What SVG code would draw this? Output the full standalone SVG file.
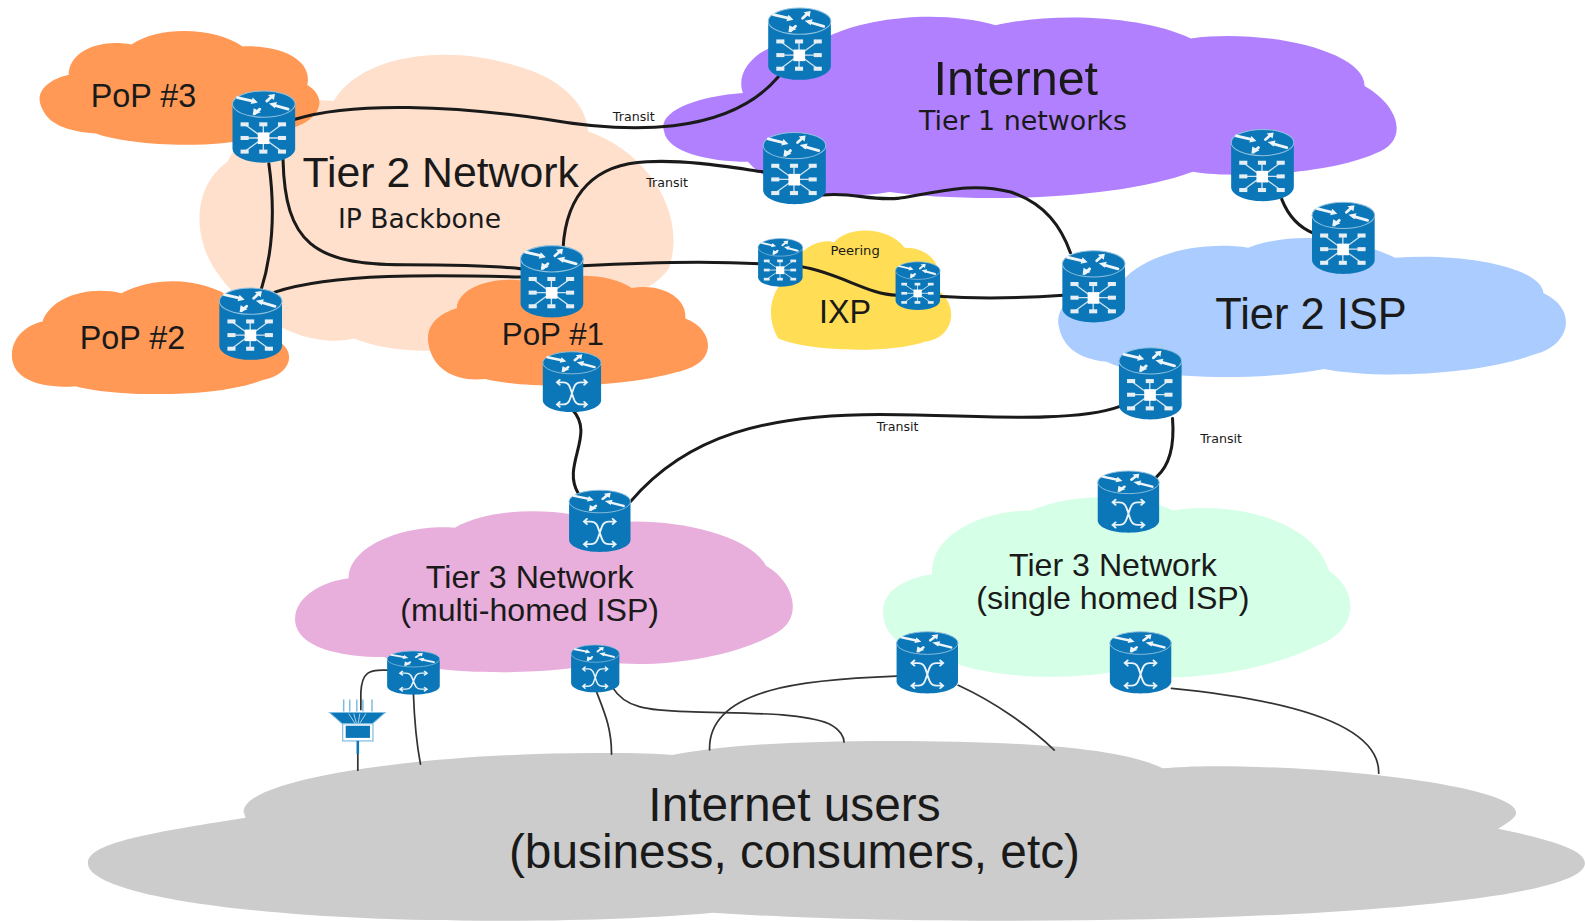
<svg xmlns="http://www.w3.org/2000/svg" width="1585" height="922" viewBox="0 0 1585 922">
<style>
text{font-family:"Liberation Sans",Arial,sans-serif;fill:#1a1a1a;text-anchor:middle}
.ds{font-family:"DejaVu Sans",sans-serif}
.c{fill:none;stroke:#1a1a1a;stroke-width:3;stroke-linecap:round}
.t{fill:none;stroke:#333;stroke-width:1.7;stroke-linecap:round}
.tr{font-size:12.5px}
.w{fill:none;stroke:#e8f2f8;stroke-width:2;stroke-linecap:round}
.f{fill:#e4eef4}
</style>
<defs>
<g id="top">
<path d="M0 13V57C0 65 14 71 31 71S62 65 62 57V13Z" fill="#0b76b8"/>
<ellipse cx="31" cy="13" rx="31" ry="13" fill="#0b76b8" stroke="#8fc1de" stroke-width="1"/>
<path d="M5 6.500L20 10M34 10L39 5.500M22 22.500L27 18M41 14L55 18" stroke="#eef5f9" stroke-width="2.800" stroke-linecap="round" fill="none"/>
<path d="M25 11.500L18 13L20 6.500ZM42 3L41 9L35 4ZM20 24L21 17L28 21ZM36 12.500L44 11L42 17Z" fill="#eef5f9"/>
</g>
<g id="router">
<use href="#top"/>
<path d="M30.500 46.500L12 33M30.500 46.500L30.500 33M30.500 46.500L49 33M30.500 46.500L12 46.500M30.500 46.500L49 46.500M30.500 46.500L12 60M30.500 46.500L30.500 60M30.500 46.500L49 60" stroke="#cfe4f0" stroke-width="1.300"/>
<rect x="25" y="41" width="11.500" height="11.500" fill="#fff"/>
<g class="f"><rect x="8" y="31" width="8" height="4"/><rect x="26.500" y="31" width="8" height="4"/><rect x="45" y="31" width="8" height="4"/><rect x="8" y="44.500" width="8" height="4"/><rect x="45" y="44.500" width="8" height="4"/><rect x="8" y="58" width="8" height="4"/><rect x="26.500" y="58" width="8" height="4"/><rect x="45" y="58" width="8" height="4"/></g>
</g>
<g id="switch">
<use href="#top"/>
<path class="w" d="M15 36H22C28 36 29 42 31 49S34 62 40 62H47M47 36H40C34 36 33 42 31 49S28 62 22 62H15M18 33L15 36L18 39M44 33L47 36L44 39M18 59L15 62L18 65M44 59L47 62L44 65"/>
</g>
</defs>

<g id="diagram" transform="scale(1.0108)">
<g id="clouds">
<path id="cloud-tier2" fill="#ffe0cc" d="M215 270C190 235 190 185 225 160C250 110 300 95 330 100C360 50 450 45 510 65C550 75 580 100 582 130C640 150 680 210 662 265C640 300 560 310 520 320C480 350 400 355 350 335C310 345 250 320 215 270Z"/>
<path id="cloud-pop3" fill="#ff9955" d="M42 108C32 90 50 78 68 74C68 50 100 38 130 44C160 24 215 28 240 46C275 44 310 58 304 84C330 100 310 125 280 128C230 150 130 145 95 132C65 130 48 122 42 108Z"/>
<path id="cloud-pop2" fill="#ff9955" d="M12 355C10 335 25 322 42 318C50 295 85 282 120 290C160 270 205 278 230 295C270 300 275 325 270 335C295 345 290 370 260 376C210 395 110 392 75 382C40 385 14 375 12 355Z"/>
<path id="cloud-pop1" fill="#ff9955" d="M425 345C418 322 435 310 452 305C452 285 490 270 530 280C570 268 605 272 625 285C655 280 680 295 678 315C705 325 710 355 680 365C620 385 520 385 480 375C450 378 430 365 425 345Z"/>
<path id="cloud-internet" fill="#b080ff" d="M657 130C650 110 690 95 735 92C725 65 760 35 815 38C860 15 935 10 985 25C1040 12 1130 15 1178 38C1250 28 1350 50 1350 85C1385 105 1395 140 1360 152C1320 170 1230 178 1180 170C1100 200 950 200 880 190C820 200 760 185 740 160C700 160 660 150 657 130Z"/>
<path id="cloud-isp" fill="#aaccff" d="M1048 325C1040 300 1075 280 1110 278C1135 250 1190 238 1235 245C1280 228 1340 235 1380 255C1450 250 1525 265 1527 290C1560 305 1555 340 1520 350C1460 372 1360 375 1310 365C1230 380 1120 372 1095 358C1065 355 1052 342 1048 325Z"/>
<path id="cloud-ixp" fill="#ffdd55" d="M770 335C755 310 765 280 785 270C785 245 815 235 825 240C840 222 880 225 895 245C925 245 935 270 925 285C950 300 945 335 915 338C880 350 800 348 770 335Z"/>
<path id="cloud-t3m" fill="#e8aedc" d="M292 615C290 590 320 575 345 572C345 540 400 518 450 522C490 500 560 502 600 518C650 510 740 525 758 560C785 575 795 610 770 625C730 650 650 662 600 655C540 670 420 668 380 650C335 650 295 640 292 615Z"/>
<path id="cloud-t3s" fill="#d5ffe6" d="M874 610C870 585 895 572 922 568C920 530 970 505 1020 505C1070 485 1130 490 1160 505C1220 495 1300 515 1315 565C1345 585 1345 625 1300 640C1250 665 1160 678 1100 665C1040 675 950 668 925 645C895 645 876 630 874 610Z"/>
<path id="cloud-users" fill="#cccccc" d="M243 809C140 825 87 835 87 854C87 885 250 911 490 911C580 911 650 908 705 903C780 908 880 911 1000 911C1300 911 1568 890 1568 854C1568 840 1530 830 1482 820C1495 812 1500 808 1500 804C1500 780 1340 758 1200 758C1180 758 1165 759 1150 760C1110 740 1010 733 880 733C780 733 710 738 665 747C640 745 620 745 590 745C420 745 241 770 241 803Z"/>
</g>

<g id="connectors">
<path class="c" d="M292 118C350 100 450 105 540 118C620 132 720 135 770 76"/>
<path class="c" d="M266 162C272 205 270 250 258 288"/>
<path class="c" d="M280 158C282 240 310 262 400 262C450 262 490 263 516 266"/>
<path class="c" d="M272 289C330 270 430 272 516 274"/>
<path class="c" d="M557 246C560 190 590 162 640 160C680 158 720 165 755 170"/>
<path class="c" d="M576 263C630 260 700 258 752 261"/>
<path class="c" d="M793 264C830 270 860 292 887 292"/>
<path class="c" d="M928 293C970 296 1010 295 1052 292"/>
<path class="c" d="M814 193C845 190 860 199 890 196C930 190 960 180 1000 190C1035 202 1050 225 1059 250"/>
<path class="c" d="M1268 197C1275 215 1285 225 1300 231"/>
<path class="c" d="M566 405C590 430 555 460 572 488"/>
<path class="c" d="M624 496C680 430 760 410 870 410C950 410 1060 420 1108 402"/>
<path class="c" d="M1160 414C1162 440 1158 460 1144 472"/>
<path class="t" d="M383 663C365 662 358 665 357 685V702"/>
<path class="t" d="M354 733V762"/>
<path class="t" d="M409 686C410 715 412 735 416 756"/>
<path class="t" d="M590 684C598 705 605 720 605 746"/>
<path class="t" d="M606 680C618 700 640 703 680 704C730 706 790 704 820 716C832 722 835 730 835 734"/>
<path class="t" d="M887 669C800 672 700 680 702 742"/>
<path class="t" d="M948 678C985 695 1020 720 1043 742"/>
<path class="t" d="M1159 681C1250 690 1365 710 1364 765"/>
</g>

<g id="r-pop3"><use href="#router" x="230" y="90"/></g>
<g id="r-pop2"><use href="#router" x="217" y="285"/></g>
<g id="r-pop1"><use href="#router" x="515" y="243"/></g>
<g id="r-inet-top"><use href="#router" x="760" y="8"/></g>
<g id="r-inet-mid"><use href="#router" x="755" y="131"/></g>
<g id="r-inet-right"><use href="#router" x="1218" y="128"/></g>
<g id="r-isp-top"><use href="#router" x="1298" y="200"/></g>
<g id="r-isp-left"><use href="#router" x="1051" y="248"/></g>
<g id="r-isp-bottom"><use href="#router" x="1107" y="344"/></g>
<g id="r-ixp-1"><use href="#router" transform="translate(750 236) scale(.71 .67)"/></g>
<g id="r-ixp-2"><use href="#router" transform="translate(886 259) scale(.71 .67)"/></g>
<g id="s-pop1"><use href="#switch" transform="translate(537 348) scale(.93 .84)"/></g>
<g id="s-t3m-top"><use href="#switch" transform="translate(563 485) scale(.98 .86)"/></g>
<g id="s-t3s-top"><use href="#switch" transform="translate(1086 466) scale(.98 .86)"/></g>
<g id="s-t3m-left"><use href="#switch" transform="translate(383 644) scale(.84 .61)"/></g>
<g id="s-t3m-mid"><use href="#switch" transform="translate(565 638) scale(.77 .66)"/></g>
<g id="s-t3s-left"><use href="#switch" transform="translate(887 625) scale(.98 .86)"/></g>
<g id="s-t3s-right"><use href="#switch" transform="translate(1098 625) scale(.98 .86)"/></g>

<g id="access-server">
<path d="M340 692V704M346 692V704M353 692V704M359 692V704M368 692V704" stroke="#7fbde0" stroke-width="1.500"/>
<path d="M326 705H381L365 719H342Z" fill="#0b76b8" stroke="#7fbde0"/>
<path d="M345 706L352 717M350 706L353 717M356 706L354 717M362 706L355 717" stroke="#cfe4f0" stroke-width=".8"/>
<rect x="339" y="716" width="30" height="17" fill="#fff" stroke="#7fbde0" stroke-width="1.200"/>
<rect x="342" y="718" width="24" height="12" fill="#0b76b8"/>
<path d="M354 733V746" stroke="#0b76b8" stroke-width="2.500"/>
</g>

<g id="labels">
<text x="142" y="106" font-size="32">PoP #3</text>
<text x="131" y="345" font-size="32">PoP #2</text>
<text x="547" y="341" font-size="31">PoP #1</text>
<text x="436" y="185" font-size="42.300">Tier 2 Network</text>
<text class="ds" x="415" y="226" font-size="26.300">IP Backbone</text>
<text x="1005" y="94" font-size="48">Internet</text>
<text class="ds" x="1012" y="129" font-size="26.600">Tier 1 networks</text>
<text x="1297" y="325" font-size="43">Tier 2 ISP</text>
<text x="836" y="320" font-size="32">IXP</text>
<text class="ds" x="846" y="252" font-size="13">Peering</text>
<text class="ds tr" x="627" y="120">Transit</text>
<text class="ds tr" x="660" y="185">Transit</text>
<text class="ds tr" x="888" y="426">Transit</text>
<text class="ds tr" x="1208" y="438">Transit</text>
<text font-size="31.800"><tspan x="524" y="582">Tier 3 Network</tspan><tspan x="524" y="614">(multi-homed ISP)</tspan></text>
<text font-size="31.800"><tspan x="1101" y="570">Tier 3 Network</tspan><tspan x="1101" y="602">(single homed ISP)</tspan></text>
<text font-size="47.300"><tspan x="786" y="812">Internet users</tspan><tspan x="786" y="859">(business, consumers, etc)</tspan></text>
</g>
</g>
</svg>
